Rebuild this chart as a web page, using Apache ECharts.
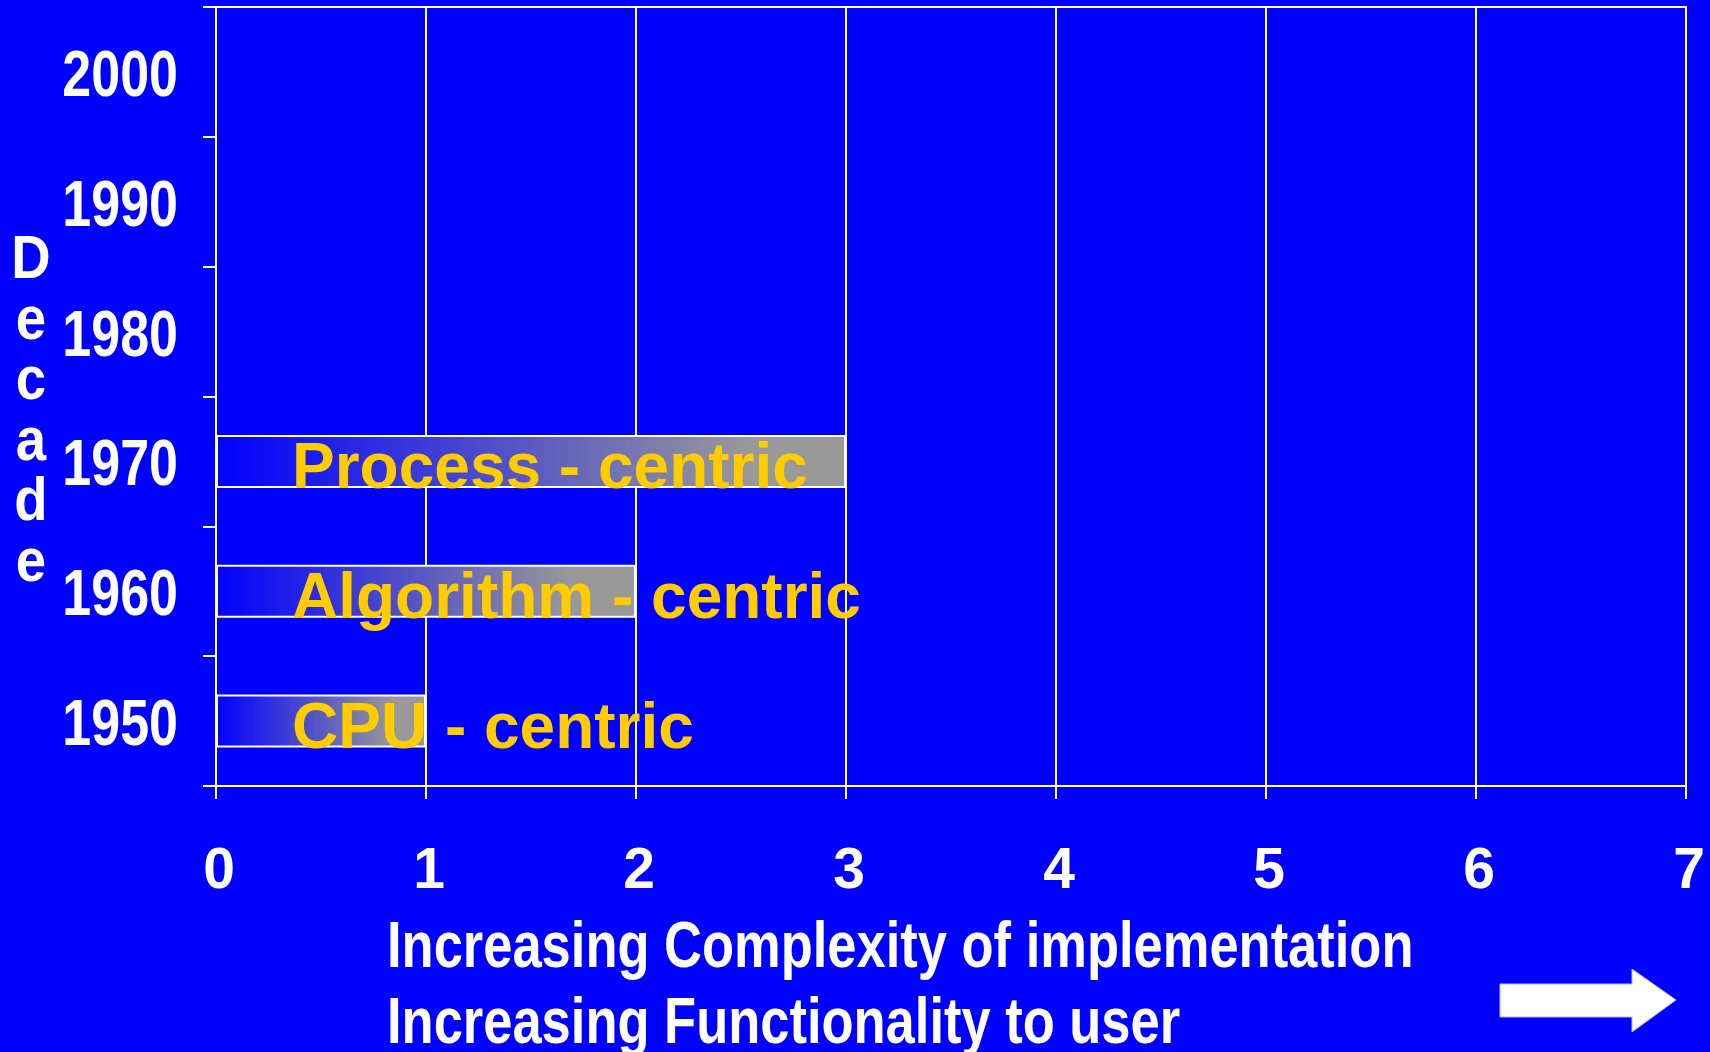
<!DOCTYPE html>
<html>
<head>
<meta charset="utf-8">
<script src="https://cdn.jsdelivr.net/npm/echarts@6/dist/echarts.min.js"></script>
<style>
  html, body { margin: 0; padding: 0; background: #0000ff; }
  #chart { width: 1710px; height: 1052px; }
</style>
</head>
<body>
<div id="chart"></div>
<script>
// Decades on the vertical axis, bottom to top
const decades = ['1950', '1960', '1970', '1980', '1990', '2000'];
// Complexity level reached in each decade
const complexity = [1, 2, 3, null, null, null];
// Name of each era, shown on its bar
const eraNames = ['CPU - centric', 'Algorithm - centric', 'Process - centric', '', '', ''];
// Horizontal scale
const xMin = 0;
const xMax = 7;
const xStep = 1;
const xTitleLines = ['Increasing Complexity of implementation', 'Increasing Functionality to user'];
const yTitle = 'Decade';

const SANS = '"Liberation Sans", Arial, sans-serif';
// horizontal squeeze that gives the bold sans a condensed look
const NARROW_SCALE = 0.8;

const chart = echarts.init(document.getElementById('chart'), null, { renderer: 'canvas' });

const barGradient = new echarts.graphic.LinearGradient(0, 0, 1, 0, [
  { offset: 0, color: '#0000ff' },
  { offset: 0.85, color: '#999999' },
  { offset: 1, color: '#999999' }
]);

chart.setOption({
  backgroundColor: '#0000ff',
  animation: false,
  grid: {
    left: 216, right: 24, top: 7, bottom: 266,
    show: true, borderColor: '#ffffff', borderWidth: 2,
    backgroundColor: 'transparent'
  },
  xAxis: {
    type: 'value',
    min: xMin, max: xMax, interval: xStep,
    axisLine: { show: true, lineStyle: { color: '#ffffff', width: 2 } },
    axisTick: { show: true, length: 13, lineStyle: { color: '#ffffff', width: 2 } },
    splitLine: { show: true, lineStyle: { color: '#ffffff', width: 2 } },
    axisLabel: {
      color: '#ffffff', fontFamily: SANS, fontWeight: 'bold', fontSize: 57,
      margin: 58, padding: [0, 0, 0, 6]
    }
  },
  yAxis: {
    type: 'category',
    data: decades,
    axisLine: { show: true, lineStyle: { color: '#ffffff', width: 2 } },
    axisTick: { show: true, length: 13, lineStyle: { color: '#ffffff', width: 2 } },
    splitLine: { show: false },
    // decade labels are drawn by the condensed label series below
    axisLabel: { show: false }
  },
  series: [
    {
      type: 'bar',
      data: complexity,
      barWidth: 53,
      itemStyle: { color: barGradient, borderColor: '#ffffff', borderWidth: 2 },
      label: {
        show: true,
        position: 'insideLeft',
        distance: 76,
        offset: [0, 9],
        color: '#ffcc00',
        fontFamily: SANS,
        fontWeight: 'bold',
        fontSize: 64,
        formatter: p => eraNames[p.dataIndex]
      }
    },
    {
      // decade tick labels, placed on the category axis and squeezed horizontally
      type: 'custom',
      silent: true,
      clip: false,
      data: decades.map(d => [xMin, d]),
      encode: { x: 0, y: 1 },
      renderItem: (params, api) => {
        const pt = api.coord([api.value(0), api.value(1)]);
        return {
          type: 'text',
          x: pt[0] - 38,
          y: pt[1] + 6,
          scaleX: NARROW_SCALE,
          style: {
            text: decades[params.dataIndex],
            fill: '#ffffff',
            font: 'bold 65px ' + SANS,
            align: 'right',
            verticalAlign: 'middle'
          }
        };
      }
    }
  ],
  graphic: [
    {
      type: 'text',
      x: 31, y: 231,
      scaleX: 0.88,
      style: {
        text: yTitle.split('').join('\n'),
        fill: '#ffffff',
        font: 'bold 62px ' + SANS,
        lineHeight: 60.5,
        align: 'center',
        verticalAlign: 'top'
      }
    },
    {
      type: 'text',
      x: 387, y: 911,
      scaleX: 0.82,
      style: {
        text: xTitleLines.join('\n'),
        fill: '#ffffff',
        font: 'bold 64px ' + SANS,
        lineHeight: 76,
        verticalAlign: 'top'
      }
    },
    {
      type: 'polygon',
      shape: {
        points: [[1500, 984], [1632, 984], [1632, 969], [1676, 1000], [1632, 1032], [1632, 1017], [1500, 1017]]
      },
      style: { fill: '#ffffff', stroke: '#b8b8ff', lineWidth: 1 }
    }
  ]
});
</script>
</body>
</html>
